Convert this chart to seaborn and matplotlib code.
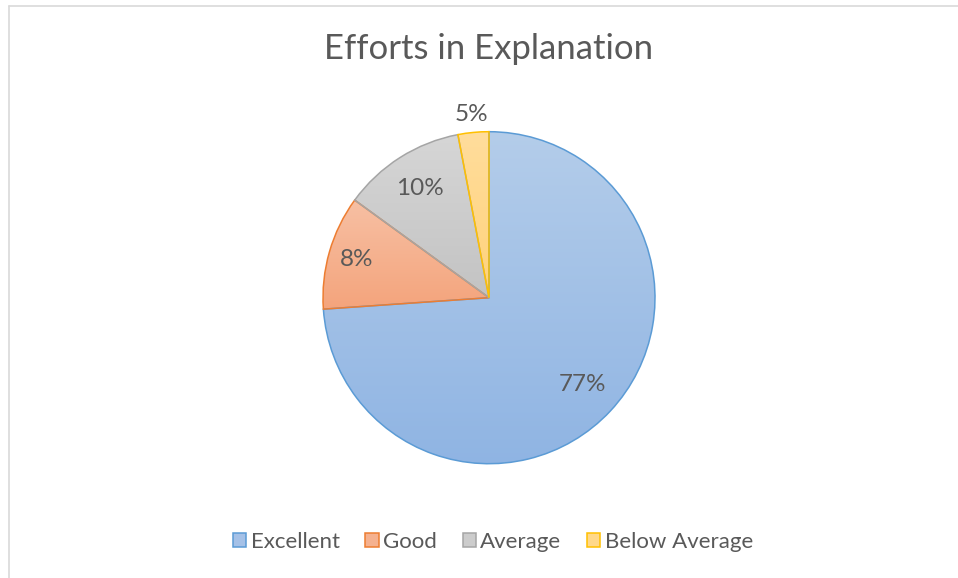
import numpy as np
import matplotlib
matplotlib.use("Agg")
import matplotlib.pyplot as plt
import matplotlib.colors as mcolors
from matplotlib.lines import Line2D
from matplotlib.patches import Patch
import seaborn as sns

# ---- data ----
categories = ["Excellent", "Good", "Average", "Below Average"]
slice_values = [73.9, 11.1, 12.0, 3.0]          # wedge sizes as drawn
label_texts = ["77%", "8%", "10%", "5%"]         # labels as printed
title = "Efforts in Explanation"

# ---- styles ----
edge_colors = ["#5B9BD5", "#ED7D31", "#A5A5A5", "#FFC000"]
top_colors = ["#b4cdea", "#f7c0a4", "#d6d6d6", "#ffdd9c"]
bottom_colors = ["#8fb4e3", "#f4a47c", "#c3c3c3", "#ffd27a"]
mid_colors = ["#a5c1e7", "#f5b18f", "#cccccc", "#ffd88a"]
label_dist = [0.77, 0.83, 0.78, 1.11]
text_color = "#595959"

sns.set_theme(style="white")
plt.rcParams["font.family"] = ["Lato", "DejaVu Sans"]

W, H = 958, 578
fig = plt.figure(figsize=(W / 100, H / 100), dpi=100)
fig.patch.set_facecolor("white")

cx, cy, r = 489, 297.7, 166
ax = fig.add_axes([(cx - r) / W, (H - cy - r) / H, 2 * r / W, 2 * r / H])
ax.set_xlim(-1, 1)
ax.set_ylim(-1, 1)
ax.axis("off")

wedges, _ = ax.pie(slice_values, startangle=90, counterclock=False,
                   colors=mid_colors, radius=1.0,
                   wedgeprops=dict(edgecolor="none", linewidth=0))

for w, tc, bc, ec in zip(wedges, top_colors, bottom_colors, edge_colors):
    tr = w.get_patch_transform()
    pts = tr.transform(w.get_path().vertices)
    xmin, xmax = pts[:, 0].min(), pts[:, 0].max()
    ymin, ymax = pts[:, 1].min(), pts[:, 1].max()
    cmap = mcolors.LinearSegmentedColormap.from_list("g", [bc, tc])
    grad = np.linspace(0, 1, 256).reshape(-1, 1)
    im = ax.imshow(grad, cmap=cmap, origin="lower", aspect="auto",
                   extent=(xmin, xmax, ymin, ymax), zorder=2,
                   interpolation="bilinear")
    im.set_clip_path(w)
    w.set_zorder(3)
    w.set_facecolor("none")
    w.set_edgecolor(ec)
    w.set_linewidth(1.1)
ax.set_xlim(-1, 1)
ax.set_ylim(-1, 1)

for w, txt, d in zip(wedges, label_texts, label_dist):
    ang = np.deg2rad((w.theta1 + w.theta2) / 2)
    ax.text(d * np.cos(ang), d * np.sin(ang), txt, ha="center", va="center",
            fontsize=17.5, color=text_color, zorder=5)

fig.text(489 / W, 1 - 49 / H, title, ha="center", va="center",
         fontsize=25, color=text_color)

handles = [Patch(facecolor=m, edgecolor=e, linewidth=1.1)
           for m, e in zip(mid_colors, edge_colors)]
fig.legend(handles, categories, loc="center", bbox_to_anchor=(493 / W, 1 - 542 / H),
           ncol=4, frameon=False, fontsize=16, labelcolor=text_color,
           handlelength=0.6, handleheight=0.6, handletextpad=0.2,
           columnspacing=1.15)

# chart border
fig.add_artist(Line2D([8.5 / W, 8.5 / W], [0, 1 - 5.5 / H], transform=fig.transFigure,
                      color="#d9d9d9", linewidth=1.2))
fig.add_artist(Line2D([8.5 / W, 1], [1 - 5.5 / H, 1 - 5.5 / H], transform=fig.transFigure,
                      color="#d9d9d9", linewidth=1.2))

fig.savefig("out.png", dpi=100, facecolor="white")
